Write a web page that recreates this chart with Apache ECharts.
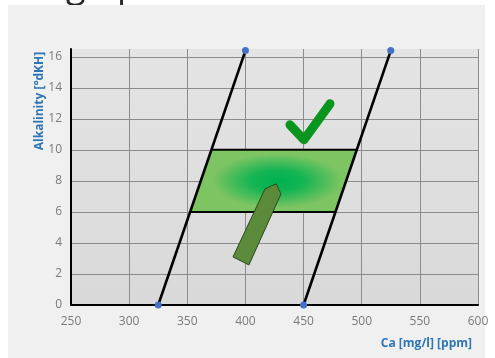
<!DOCTYPE html>
<html><head><meta charset="utf-8">
<script src="https://cdn.jsdelivr.net/npm/echarts@6/dist/echarts.min.js"></script>
<style>html,body{margin:0;padding:0;background:#fff;}#c{width:495px;height:358px;}</style>
</head><body><div id="c"></div>
<script>
// ---- data ----
const xTicks = [250, 300, 350, 400, 450, 500, 550, 600];
const yTicks = [0, 2, 4, 6, 8, 10, 12, 14, 16];
const lowerLine = [[325, 0], [400, 16.4]];
const upperLine = [[450, 0], [525, 16.4]];
const bandX = [370.7, 495.7, 477.4, 352.4];
const bandY = [10, 10, 6, 6];
const arrowX = [426.3, 430.6, 403.0, 389.3, 416.8];
const arrowY = [7.81, 7.16, 2.58, 3.10, 7.48];
const checkX = [438.3, 450.3, 472.7];
const checkY = [11.61, 10.65, 12.97];
const xName = 'Ca [mg/l] [ppm]';
const yName = 'Alkalinity [°dKH]';

const FONT = 'Open Sans';
const chart = echarts.init(document.getElementById('c'));

function zip(xs, ys) { return xs.map((x, i) => [x, ys[i]]); }

const option = {
  animation: false,
  backgroundColor: '#ffffff',
  graphic: [
    { type: 'text', z: -20, x: 66, y: -13, style: { text: 'g up', font: '36px "' + FONT + '"', fill: '#262626', verticalAlign: 'middle' } },
    { type: 'rect', z: -10, silent: true, shape: { x: 8, y: 5, width: 477, height: 360 }, style: { fill: '#f0f0f0' } },
    { type: 'text', x: 40, y: 101, rotation: Math.PI / 2, style: { text: yName, font: 'bold 12px "' + FONT + '"', fill: '#2e75b6', align: 'center', verticalAlign: 'middle' } }
  ],
  grid: {
    left: 71, right: 17, top: 49, bottom: 53, show: true, borderWidth: 0,
    backgroundColor: { type: 'linear', x: 0, y: 0, x2: 0, y2: 1, colorStops: [{ offset: 0, color: '#e4e4e4' }, { offset: 1, color: '#d9d9d9' }] }
  },
  xAxis: {
    type: 'value', min: xTicks[0], max: xTicks[xTicks.length - 1], interval: 50,
    name: xName, nameLocation: 'end', nameGap: -6,
    nameTextStyle: { align: 'right', verticalAlign: 'top', padding: [33, 0, 0, 0], color: '#2e75b6', fontWeight: 'bold', fontSize: 12, fontFamily: FONT },
    axisLine: { show: true, onZero: false, lineStyle: { color: '#000', width: 2 } },
    axisTick: { show: false },
    axisLabel: { color: '#7a7a7a', fontSize: 12, fontFamily: FONT, margin: 11 },
    splitLine: { show: true, lineStyle: { color: '#8c8c8c', width: 1 } }
  },
  yAxis: {
    type: 'value', min: 0, max: 16.5, interval: 2,
    axisLine: { show: true, onZero: false, lineStyle: { color: '#000', width: 2 } },
    axisTick: { show: false },
    axisLabel: { color: '#7a7a7a', fontSize: 12, fontFamily: FONT, margin: 9, formatter: v => (yTicks.indexOf(v) >= 0 ? String(v) : '') },
    splitLine: { show: true, lineStyle: { color: ['#8c8c8c', '#8c8c8c', '#8c8c8c', '#8c8c8c', '#8c8c8c', '#8c8c8c', '#8c8c8c', '#8c8c8c', '#8c8c8c', 'rgba(0,0,0,0)'], width: 1 } }
  },
  series: [
    {
      type: 'custom', z: 3, clip: false,
      data: [[bandX[0], bandY[0]]],
      renderItem: function (params, api) {
        const pts = zip(bandX, bandY).map(p => api.coord(p));
        const cx = (pts[0][0] + pts[1][0] + pts[2][0] + pts[3][0]) / 4;
        const cy = (pts[0][1] + pts[2][1]) / 2;
        return {
          type: 'group', children: [
            { type: 'polygon', shape: { points: pts }, style: { fill: '#7dc462' } },
            { type: 'circle', x: cx + 4, y: cy, scaleX: 2.4, scaleY: 1, shape: { cx: 0, cy: 0, r: 27 },
              style: { fill: { type: 'radial', x: 0.5, y: 0.5, r: 0.5, colorStops: [
                { offset: 0, color: '#00b050' }, { offset: 0.4, color: '#14b553' }, { offset: 1, color: '#7dc462' }] } } },
            { type: 'line', shape: { x1: pts[0][0], y1: pts[0][1], x2: pts[1][0], y2: pts[1][1] }, style: { stroke: '#000', lineWidth: 2 } },
            { type: 'line', shape: { x1: pts[3][0], y1: pts[3][1], x2: pts[2][0], y2: pts[2][1] }, style: { stroke: '#000', lineWidth: 2 } }
          ]
        };
      }
    },
    {
      type: 'line', z: 5, data: lowerLine, symbol: 'circle', symbolSize: 7, clip: false,
      lineStyle: { color: '#000', width: 2.6 }, itemStyle: { color: '#4472c4' }
    },
    {
      type: 'line', z: 5, data: upperLine, symbol: 'circle', symbolSize: 7, clip: false,
      lineStyle: { color: '#000', width: 2.6 }, itemStyle: { color: '#4472c4' }
    },
    {
      type: 'custom', z: 6, clip: false,
      data: [[arrowX[0], arrowY[0]]],
      renderItem: function (params, api) {
        const pts = zip(arrowX, arrowY).map(p => api.coord(p));
        return { type: 'polygon', shape: { points: pts }, style: { fill: '#5a8a3a', stroke: '#2b4a1c', lineWidth: 1 } };
      }
    },
    {
      type: 'custom', z: 6, clip: false,
      data: [[checkX[0], checkY[0]]],
      renderItem: function (params, api) {
        const pts = zip(checkX, checkY).map(p => api.coord(p));
        return { type: 'polyline', shape: { points: pts }, style: { fill: null, stroke: '#0a961e', lineWidth: 9, lineCap: 'round', lineJoin: 'round' } };
      }
    }
  ]
};
chart.setOption(option);
</script>
</body></html>
